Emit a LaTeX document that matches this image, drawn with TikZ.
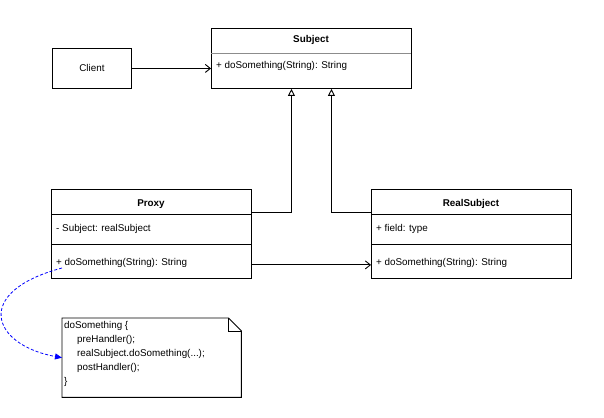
\documentclass[tikz,border=0pt]{standalone}
\usepackage{fontspec}
\setmainfont{Liberation Sans}
\usetikzlibrary{arrows.meta}
\begin{document}
\begin{tikzpicture}[x=1pt,y=-1pt,
  every node/.style={font=\fontsize{9.85}{11.8}\selectfont},
  box/.style={draw=black,line width=0.9pt,rectangle,inner sep=0pt,anchor=north west},
  title/.style={font=\fontsize{9.85}{11.8}\selectfont\bfseries},
  member/.style={anchor=west,inner sep=0pt},
  sep/.style={line width=0.9pt},
  assoc/.style={line width=0.9pt,-{Straight Barb[length=5pt,width=8pt]}},
  inh/.style={line width=0.9pt,-{Triangle[open,length=7pt,width=7pt]}},
  notelink/.style={draw=blue,line width=0.8pt,dashed,dash pattern=on 3pt off 2pt,-{Triangle[length=7pt,width=6pt,fill=blue]}}
]
\useasboundingbox[fill=white] (0,0) rectangle (604,417);

% Subject
\node[box,minimum width=200pt,minimum height=60pt] (subject) at (211,28) {};
\node[title] (subjectT) at (311,40) {Subject};
\draw[line width=0.7pt,draw=black!45] (211,53) -- (411,53);
\node[member] (subjectM) at (216,66) {+ doSomething(String): String};

% Client
\node[box,minimum width=79pt,minimum height=40pt] (client) at (52,48) {};
\node (clientT) at (client.center) {Client};

% Proxy
\node[box,minimum width=200pt,minimum height=89pt] (proxy) at (51,189) {};
\node[title] (proxyT) at (151,204) {Proxy};
\draw[sep] (51,214) -- (251,214);
\draw[sep] (51,244) -- (251,244);
\node[member] (proxyA) at (56,228.5) {- Subject: realSubject};
\node[member] (proxyM) at (56,262.5) {+ doSomething(String): String};

% RealSubject
\node[box,minimum width=200pt,minimum height=89pt] (real) at (371,189) {};
\node[title] (realT) at (471,204) {RealSubject};
\draw[sep] (371,214) -- (571,214);
\draw[sep] (371,244) -- (571,244);
\node[member] (realA) at (376,228.5) {+ field: type};
\node[member] (realM) at (376,262.5) {+ doSomething(String): String};

% Note
\node[inner sep=0pt,anchor=north west,minimum width=179pt,minimum height=79pt] (note) at (62,318) {};
\draw[line width=0.9pt] (note.north west) -- ([xshift=-13pt]note.north east) -- ([yshift=-13pt]note.north east) -- (note.south east) -- (note.south west) -- cycle;
\draw[line width=0.9pt] ([xshift=-13pt]note.north east) |- ([yshift=-13pt]note.north east);
\node[anchor=north west,inner sep=0pt,align=left,font=\fontsize{9.85}{14}\selectfont] (noteT) at (64,321) {doSomething \{\\
\hspace*{13pt}preHandler();\\
\hspace*{13pt}realSubject.doSomething(...);\\
\hspace*{13pt}postHandler();\\
\}};

% connectors
\draw[assoc] (client.east) -- (client.east -| subject.west);
\draw[inh] (proxy.north east) ++(0,23) -| ([xshift=-20pt]subject.south);
\draw[inh] (real.north west) ++(0,23) -| ([xshift=20pt]subject.south);
\draw[assoc] ([yshift=14pt]proxy.south east) -- ([yshift=14pt]real.south west);
\coordinate (linkstart) at (62,268);
\draw[notelink] (linkstart) .. controls (-28,292) and (-8,345) .. (note.west);
\end{tikzpicture}
\end{document}
